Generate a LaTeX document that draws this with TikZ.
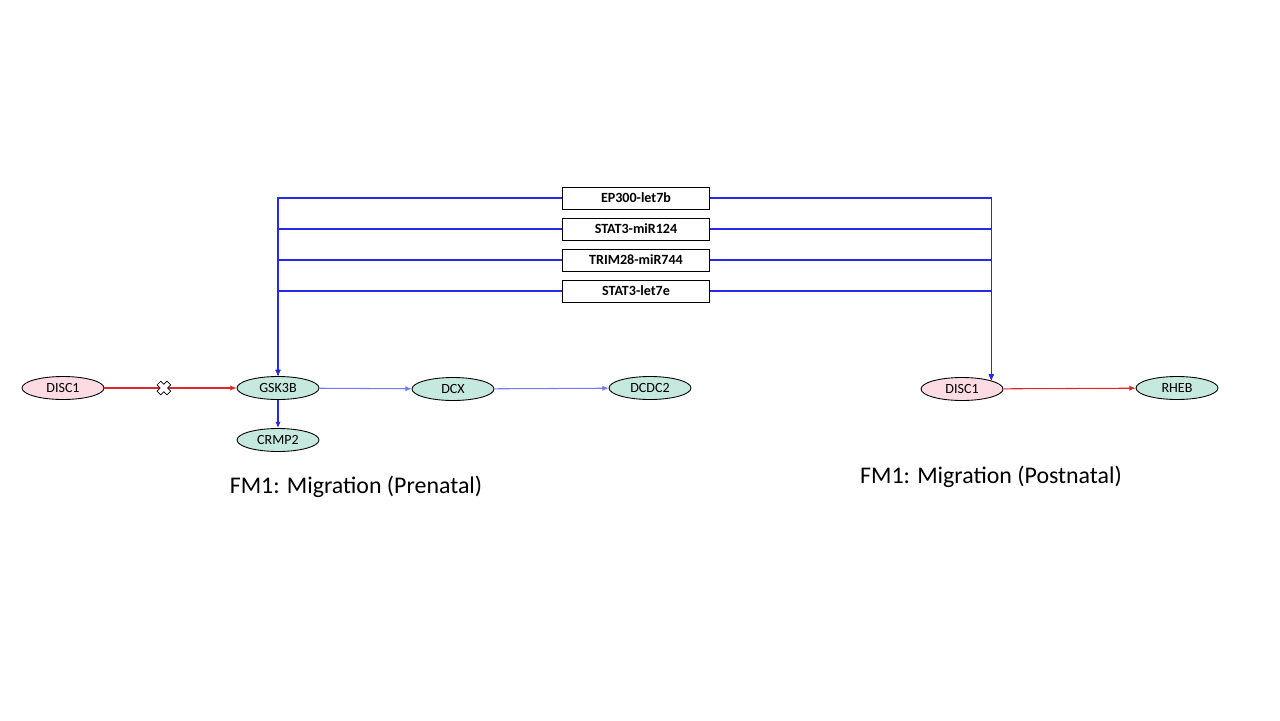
\documentclass[tikz,border=0pt]{standalone}
\usepackage{fontspec}
\setmainfont{Carlito}
\usepackage{xcolor}
\usetikzlibrary{positioning, shapes, arrows.meta, calc}

\definecolor{pinkfill}{RGB}{252,220,226}
\definecolor{tealfill}{RGB}{197,232,223}
\definecolor{linkred}{RGB}{222,40,40}
\definecolor{linkblue}{RGB}{40,40,235}
\definecolor{paleblue}{RGB}{120,120,250}

\tikzset{
  gene/.style={ellipse, draw, line width=0.5pt, minimum width=1.64cm, minimum height=0.46cm, inner sep=0pt, font=\fontsize{8}{9}\selectfont},
  disc/.style={gene, fill=pinkfill},
  target/.style={gene, fill=tealfill},
  pairbox/.style={rectangle, draw, line width=0.5pt, fill=white, minimum width=2.94cm, minimum height=0.44cm, inner sep=0pt, font=\bfseries\fontsize{8}{9}\selectfont},
  tip/.style={-{Latex[length=3.5pt,width=3pt]}},
  caption/.style={font=\fontsize{13.6}{16}\selectfont}
}

\begin{document}
\begin{tikzpicture}[x=0.02cm, y=-0.02cm, line width=0.6pt]
    \useasboundingbox (0,0) rectangle (1280,720);

    % prenatal module
    \node[disc] (disca) at (63,388) {DISC1};
    \node[target] (gsk) at (278,388) {GSK3B};
    \node[target] (crmp) at (278,440) {CRMP2};
    \node[target] (dcx) at (453,389) {DCX};
    \node[target] (dcdc) at (650,388) {DCDC2};

    % postnatal module
    \node[disc] (discb) at (962,389) {DISC1};
    \node[target] (rheb) at (1177,388) {RHEB};

    % TF-miRNA pairs
    \node[pairbox] (ep) at (636,198) {EP300-let7b};
    \node[pairbox] (stata) at (636,229) {STAT3-miR124};
    \node[pairbox] (trim) at (636,260) {TRIM28-miR744};
    \node[pairbox] (statb) at (636,291) {STAT3-let7e};

    \foreach \p in {ep, stata, trim, statb} {
      \draw[linkblue, tip] (\p.west) -| (gsk.north);
      \draw[linkblue, tip] (\p.east) -| (discb.north east);
    }

    \draw[linkred, tip] (disca) -- coordinate[pos=0.45] (cut) (gsk);
    \draw[linkblue, tip] (gsk) -- (crmp);
    \draw[paleblue, tip] (gsk) -- (dcx);
    \draw[paleblue, tip] (dcx) -- (dcdc);
    \draw[linkred, tip] (discb) -- (rheb);

    % broken link mark
    \draw[fill=white, line width=0.4pt, shift={(cut)}, rotate=45]
      (2.6,2.6) -- (2.6,7) -- (-2.6,7) -- (-2.6,2.6) -- (-7,2.6) -- (-7,-2.6)
      -- (-2.6,-2.6) -- (-2.6,-7) -- (2.6,-7) -- (2.6,-2.6) -- (7,-2.6) -- (7,2.6) -- cycle;

    \node[caption] (capa) at (356,487) {FM1: Migration (Prenatal)};
    \node[caption] (capb) at (991,477) {FM1: Migration (Postnatal)};
  \end{tikzpicture}
\end{document}
